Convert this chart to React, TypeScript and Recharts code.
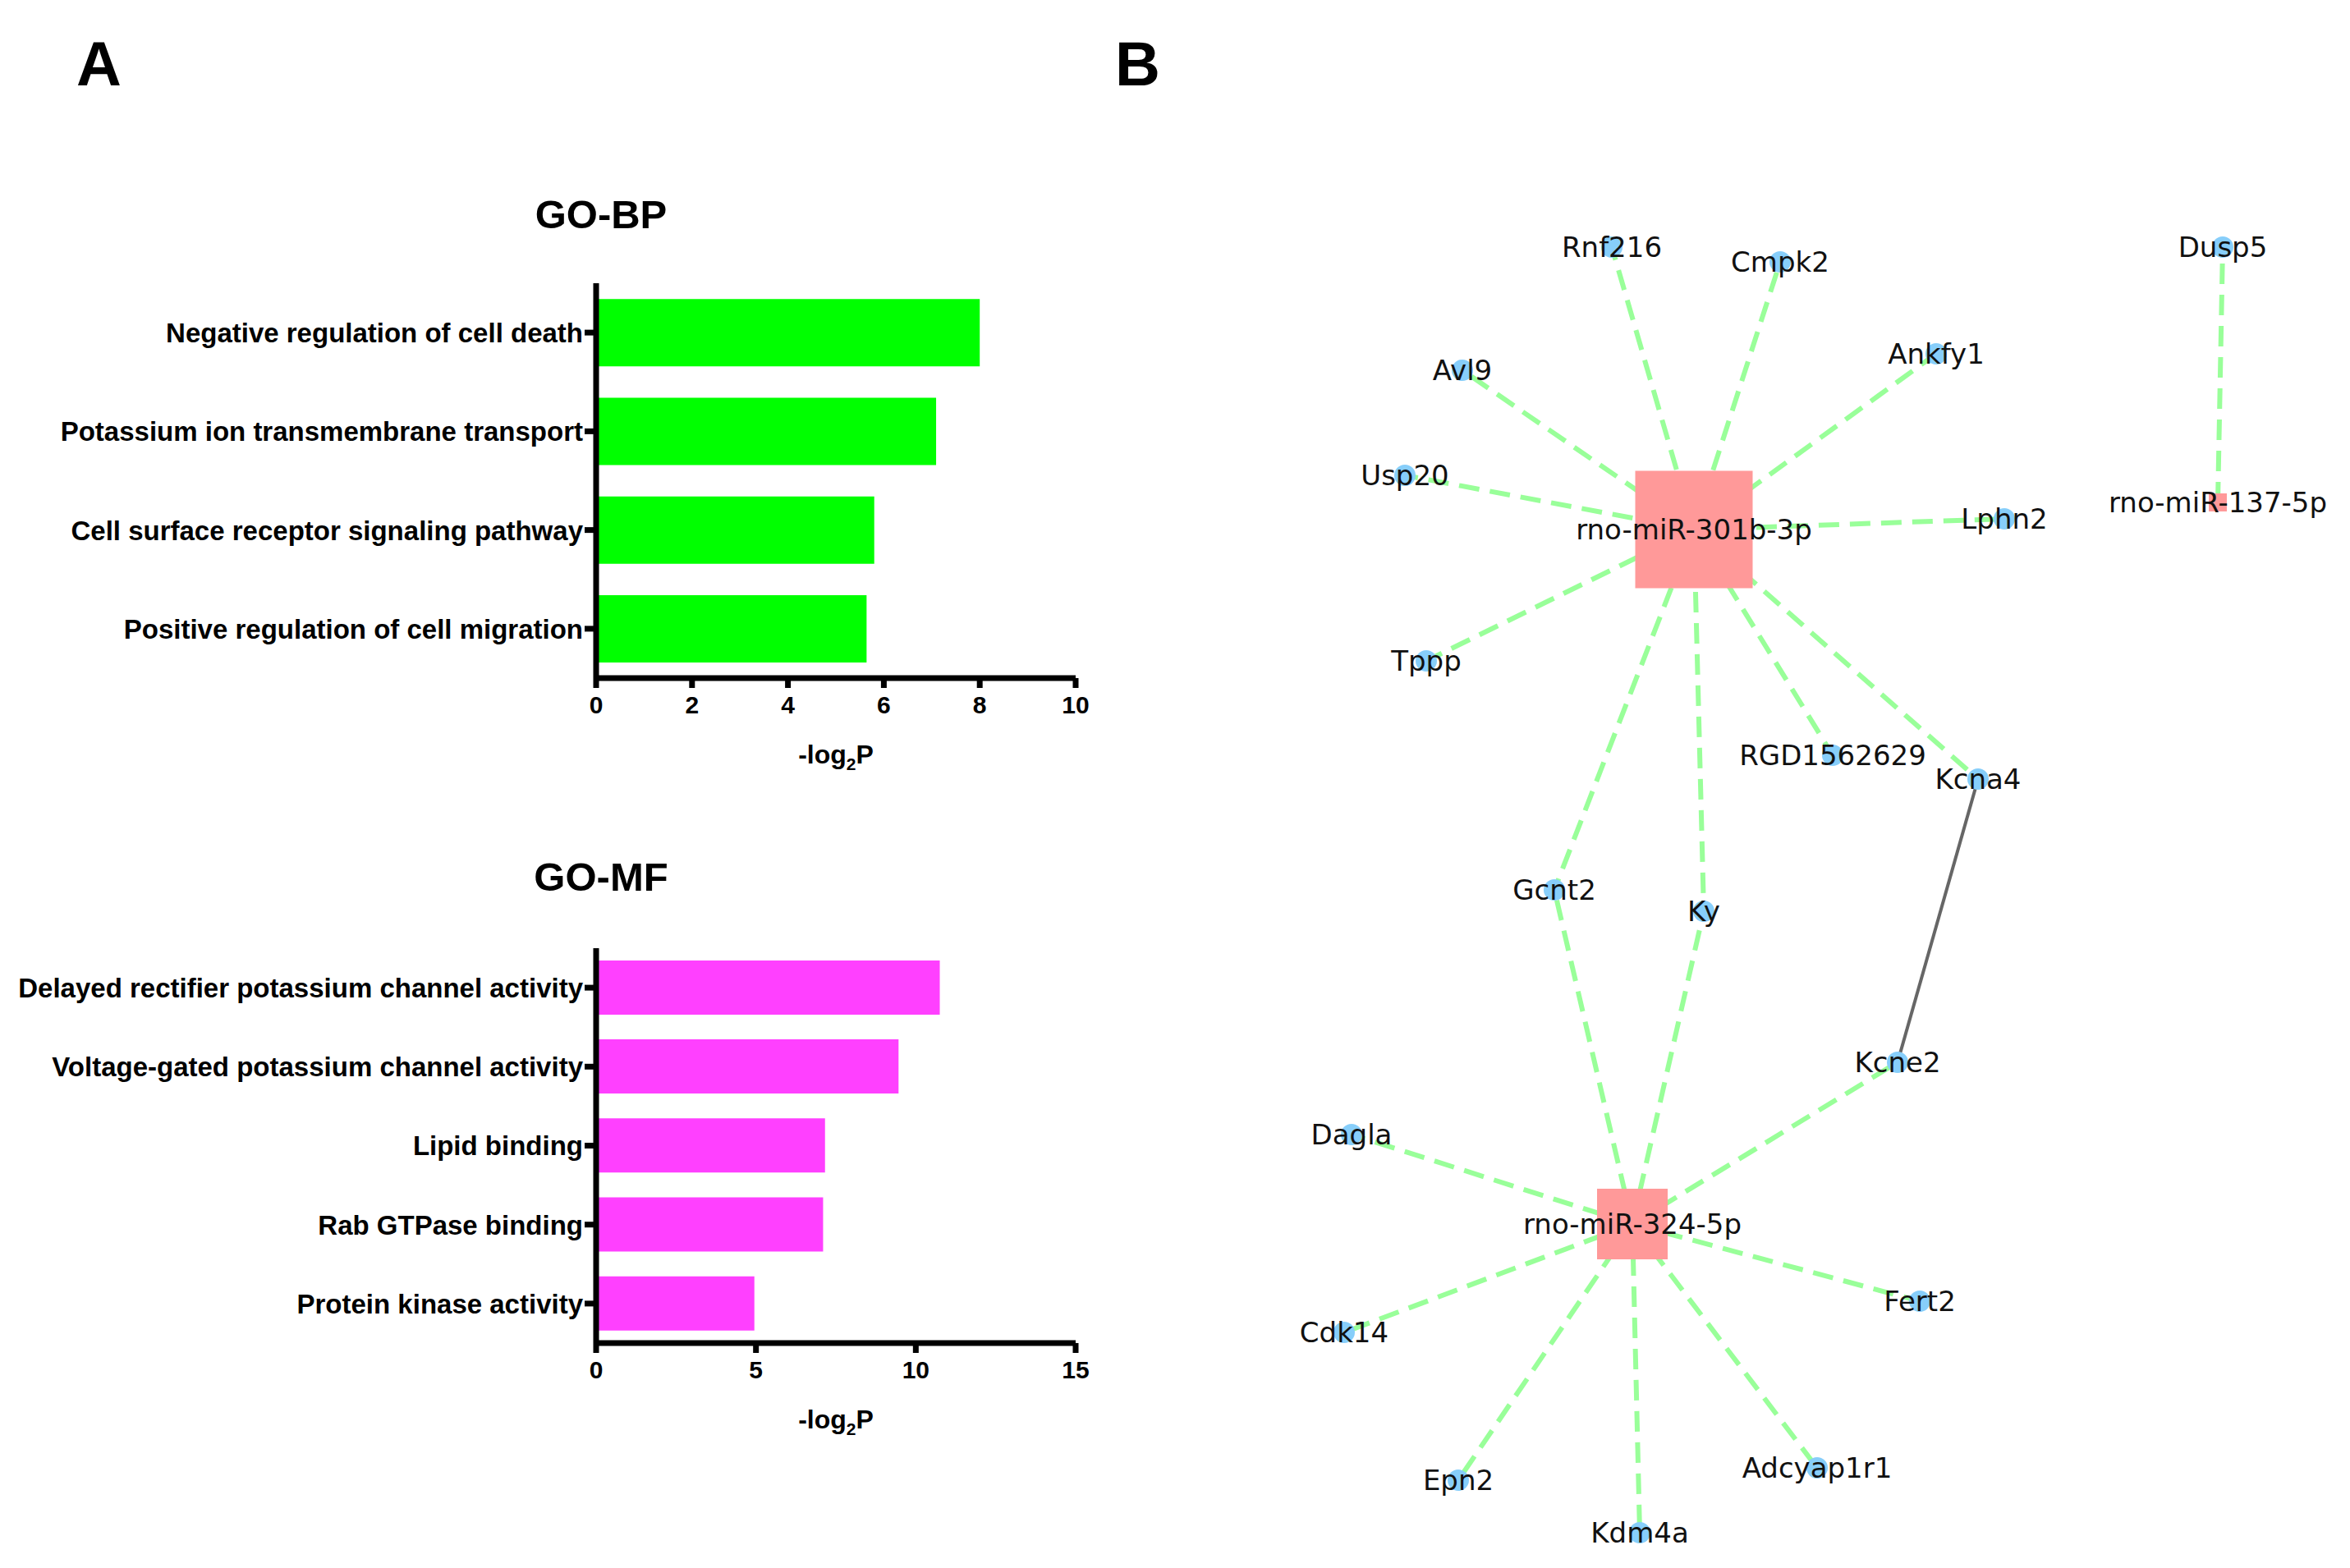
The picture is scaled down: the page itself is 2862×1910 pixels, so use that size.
import React from "react";
import { Bar, BarChart, Label, LabelList, Scatter, ScatterChart, XAxis, YAxis } from "recharts";

const SANS = '"Liberation Sans", Arial, Helvetica, sans-serif';
const NET_FONT = '"DejaVu Sans", Verdana, sans-serif';

// GO-BP
const bpTerms = [
  "Negative regulation of cell death",
  "Potassium ion transmembrane transport",
  "Cell surface receptor signaling pathway",
  "Positive regulation of cell migration",
];
const bpValues = [8.0, 7.09, 5.8, 5.64];
const bpTicks = [0, 2, 4, 6, 8, 10];

// GO-MF
const mfTerms = [
  "Delayed rectifier potassium channel activity",
  "Voltage-gated potassium channel activity",
  "Lipid binding",
  "Rab GTPase binding",
  "Protein kinase activity",
];
const mfValues = [10.75, 9.46, 7.16, 7.1, 4.95];
const mfTicks = [0, 5, 10, 15];

// network layout (figure pixel units)
const mirnaNodes = [
  { name: "rno-miR-301b-3p", x: 2063, y: 645 },
  { name: "rno-miR-324-5p", x: 1988, y: 1491 },
  { name: "rno-miR-137-5p", x: 2701, y: 612 },
];
const geneNodes = [
  { name: "Rnf216", x: 1963, y: 301 },
  { name: "Cmpk2", x: 2168, y: 319 },
  { name: "Dusp5", x: 2707, y: 301 },
  { name: "Avl9", x: 1781, y: 451 },
  { name: "Ankfy1", x: 2358, y: 431 },
  { name: "Usp20", x: 1711, y: 579 },
  { name: "Lphn2", x: 2441, y: 632 },
  { name: "Tppp", x: 1737, y: 805 },
  { name: "RGD1562629", x: 2232, y: 920 },
  { name: "Kcna4", x: 2409, y: 949 },
  { name: "Gcnt2", x: 1893, y: 1084 },
  { name: "Ky", x: 2075, y: 1110 },
  { name: "Kcne2", x: 2311, y: 1294 },
  { name: "Dagla", x: 1646, y: 1382 },
  { name: "Fert2", x: 2338, y: 1585 },
  { name: "Cdk14", x: 1637, y: 1623 },
  { name: "Epn2", x: 1776, y: 1803 },
  { name: "Adcyap1r1", x: 2213, y: 1788 },
  { name: "Kdm4a", x: 1997, y: 1867 },
];
const targets301b = ["Rnf216", "Cmpk2", "Avl9", "Ankfy1", "Usp20", "Lphn2", "Tppp", "RGD1562629", "Kcna4", "Gcnt2", "Ky"];
const targets324 = ["Gcnt2", "Ky", "Kcne2", "Dagla", "Fert2", "Cdk14", "Epn2", "Adcyap1r1", "Kdm4a"];
const targets137 = ["Dusp5"];
const geneLinks = [["Kcna4", "Kcne2"]];

const squareSide: Record<string, number> = {
  "rno-miR-301b-3p": 143,
  "rno-miR-324-5p": 86,
  "rno-miR-137-5p": 22,
};

const CategoryTick = (props: any) => {
  const { x, y, payload } = props;
  return (
    <text x={x} y={y} dy="0.36em" textAnchor="end" fontSize={33} fontWeight={700} fontFamily={SANS} fill="#000">
      {payload.value}
    </text>
  );
};

const Log2PTitle = (props: any) => {
  const { x, y, width } = props.viewBox;
  return (
    <text x={x + width / 2} y={y + 104} textAnchor="middle" fontSize={32} fontWeight={700} fontFamily={SANS} fill="#000">
      -log
      <tspan dy={8} fontSize={21}>2</tspan>
      <tspan dy={-8}>P</tspan>
    </text>
  );
};

function GoBarChart({ terms, values, ticks, color, top, gap }: any) {
  const data = terms.map((term: string, i: number) => ({ term, value: values[i] }));
  const axisStyle = { stroke: "#000", strokeWidth: 7 };
  return (
    <div style={{ position: "absolute", left: 0, top }}>
      <BarChart
        width={1380}
        height={620}
        data={data}
        layout="vertical"
        margin={{ top: 15, right: 70, bottom: 0, left: 0 }}
        barCategoryGap={gap}
      >
        <XAxis
          type="number"
          domain={[ticks[0], ticks[ticks.length - 1]]}
          ticks={ticks}
          interval={0}
          height={124}
          axisLine={axisStyle}
          tickLine={axisStyle}
          tickSize={12}
          tickMargin={10}
          tick={{ fill: "#000", fontSize: 30, fontWeight: 700, fontFamily: SANS }}
        >
          <Label content={Log2PTitle} />
        </XAxis>
        <YAxis
          type="category"
          dataKey="term"
          width={726}
          axisLine={axisStyle}
          tickLine={axisStyle}
          tickSize={14}
          tickMargin={2}
          interval={0}
          tick={<CategoryTick />}
        />
        <Bar dataKey="value" fill={color} isAnimationActive={false} />
      </BarChart>
    </div>
  );
}

const NodeShape = (props: any) => {
  const { cx, cy } = props;
  const name = props.payload?.name ?? props.name;
  const side = squareSide[name];
  if (side) {
    return <rect x={cx - side / 2} y={cy - side / 2} width={side} height={side} fill="#FF9999" />;
  }
  return <circle cx={cx} cy={cy} r={13} fill="#87CEFA" />;
};

const NoShape = () => <g />;

function Network() {
  const all = [...mirnaNodes, ...geneNodes];
  const pos: Record<string, { x: number; y: number }> = {};
  all.forEach((n) => (pos[n.name] = n));
  const mirEdges = [
    ...targets301b.map((t) => ["rno-miR-301b-3p", t]),
    ...targets324.map((t) => ["rno-miR-324-5p", t]),
    ...targets137.map((t) => ["rno-miR-137-5p", t]),
  ];
  return (
    <div style={{ position: "absolute", left: 1500, top: 200 }}>
      <ScatterChart width={1362} height={1710} margin={{ top: 0, right: 0, bottom: 0, left: 0 }}>
        <XAxis type="number" dataKey="x" domain={[1500, 2862]} hide />
        <YAxis type="number" dataKey="y" domain={[200, 1910]} reversed hide />
        {mirEdges.map(([a, b]) => (
          <Scatter
            key={a + b}
            data={[pos[a], pos[b]]}
            line={{ stroke: "#99FF99", strokeWidth: 6, strokeDasharray: "25 13" }}
            shape={NoShape}
            isAnimationActive={false}
          />
        ))}
        {geneLinks.map(([a, b]) => (
          <Scatter
            key={a + b}
            data={[pos[a], pos[b]]}
            line={{ stroke: "#666666", strokeWidth: 4 }}
            shape={NoShape}
            isAnimationActive={false}
          />
        ))}
        <Scatter data={all} shape={NodeShape} isAnimationActive={false}>
          <LabelList dataKey="name" position="center" fill="#111" fontSize={34} fontFamily={NET_FONT} />
        </Scatter>
      </ScatterChart>
    </div>
  );
}

export default function App() {
  return (
    <div style={{ position: "absolute", left: 0, top: 0, width: 2862, height: 1910, background: "#fff" }}>
      <svg width={2862} height={1910} style={{ position: "absolute", left: 0, top: 0 }}>
        <text x={93} y={104} fontSize={76} fontWeight={700} fontFamily={SANS}>A</text>
        <text x={1358} y={104} fontSize={76} fontWeight={700} fontFamily={SANS}>B</text>
        <text x={732} y={278} textAnchor="middle" fontSize={49} fontWeight={700} fontFamily={SANS}>GO-BP</text>
        <text x={732} y={1085} textAnchor="middle" fontSize={49} fontWeight={700} fontFamily={SANS}>GO-MF</text>
      </svg>
      <GoBarChart terms={bpTerms} values={bpValues} ticks={bpTicks} color="#00FF00" top={330} gap="16%" />
      <GoBarChart terms={mfTerms} values={mfValues} ticks={mfTicks} color="#FF40FF" top={1140} gap="15.5%" />
      <Network />
    </div>
  );
}
